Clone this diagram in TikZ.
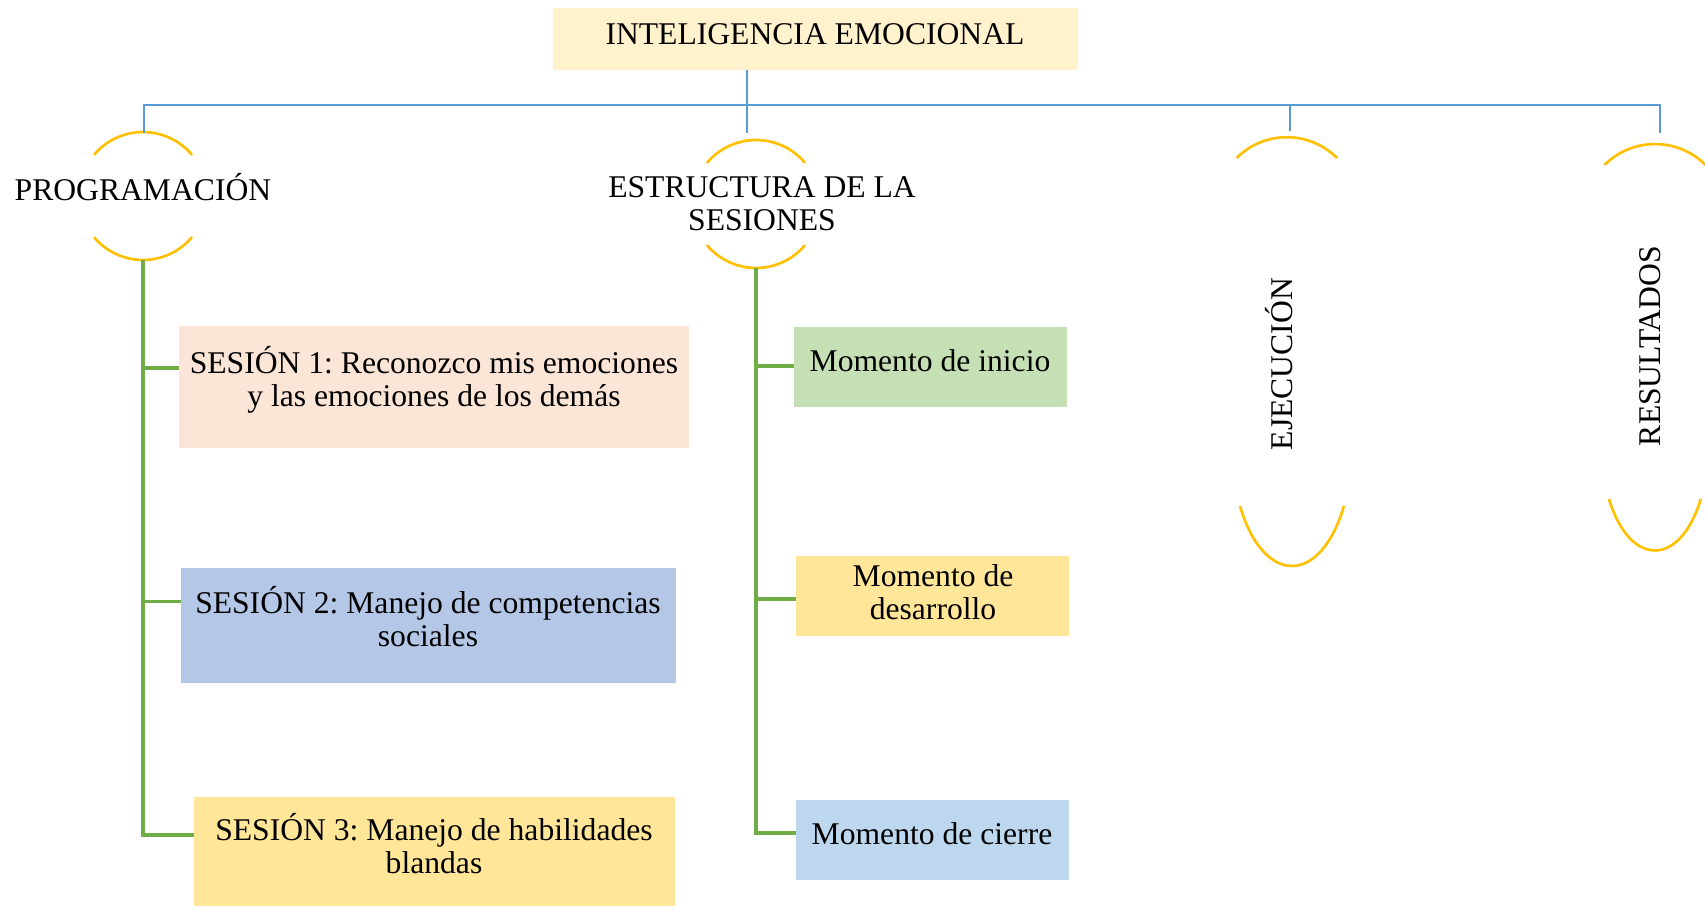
\documentclass[tikz,border=0pt]{standalone}
\usepackage{fontspec}
\setmainfont{Liberation Serif}
\frenchspacing
\definecolor{topfill}{HTML}{FFF2CC}
\definecolor{peach}{HTML}{FBE5D6}
\definecolor{lavblue}{HTML}{B4C7E7}
\definecolor{softgold}{HTML}{FFE699}
\definecolor{sage}{HTML}{C5E0B4}
\definecolor{skyblue}{HTML}{BDD7EE}
\definecolor{ringgold}{HTML}{FFC000}
\definecolor{linkblue}{HTML}{5B9BD5}
\definecolor{linkgreen}{HTML}{70AD47}
\tikzset{
  txt/.style={font=\fontsize{18}{18.8}\selectfont, align=center, inner sep=0pt},
  fillbox/.style={anchor=north west, inner sep=0pt, outer sep=0pt},
  ringnode/.style={circle, minimum size=2.56cm, inner sep=0pt, outer sep=0pt},
  arcline/.style={draw=ringgold, line width=1.5pt},
  bline/.style={draw=linkblue, line width=0.7pt},
  gline/.style={draw=linkgreen, line width=2pt}
}

\begin{document}
\begin{tikzpicture}[x=0.02cm, y=-0.02cm]
        \useasboundingbox (0,0) rectangle (1705,906);
        \node[fillbox, fill=topfill, minimum width=10.5cm, minimum height=1.25cm] (top) at (553,8) {};
        \node[txt, anchor=base] (toptxt) at (815,44) {INTELIGENCIA EMOCIONAL};

        \node[ringnode] (prog) at (143,196) {};
        \draw[arcline] (prog.40) arc[start angle=40, end angle=140, radius=1.28cm];
        \draw[arcline] (prog.220) arc[start angle=220, end angle=320, radius=1.28cm];
        \node[txt, anchor=base] (progtxt) at (143,200) {PROGRAMACIÓN};

        \node[ringnode] (est) at (756,204) {};
        \draw[arcline] (est.40) arc[start angle=40, end angle=140, radius=1.28cm];
        \draw[arcline] (est.220) arc[start angle=220, end angle=320, radius=1.28cm];
        \node[txt] (esttxt) at (762,204) {ESTRUCTURA DE LA\\SESIONES};

        \draw[arcline] (1337,158) arc[start angle=45, end angle=135, radius=1.42cm];
        \draw[arcline] (1240,506) arc[start angle=210, end angle=330, x radius=1.2cm, y radius=2.4cm];
        \node[txt, anchor=base, rotate=90] (ejec) at (1292,364) {EJECUCIÓN};

        \draw[arcline] (1705.6,165) arc[start angle=45, end angle=135, radius=1.43cm];
        \draw[arcline] (1609,499) arc[start angle=210, end angle=330, x radius=1.06cm, y radius=2.06cm];
        \node[txt, anchor=base, rotate=90] (resu) at (1660,346) {RESULTADOS};

        % blue tree
        \coordinate (bar) at (747,105);
        \coordinate (d1) at (144,133);
        \coordinate (d2) at (747,133);
        \coordinate (d3) at (1290,131);
        \coordinate (d4) at (1660,133);
        \draw[bline] (d1) -- (d1 |- bar) -- (d4 |- bar) -- (d4);
        \draw[bline] (top.south -| d2) -- (d2);
        \draw[bline] (d3 |- bar) -- (d3);

        % sessions
        \node[fillbox, fill=peach, minimum width=10.2cm, minimum height=2.44cm] (s1) at (179,326) {};
        \node[txt] (s1txt) at (434,380) {SESIÓN 1: Reconozco mis emociones\\y las emociones de los demás};
        \node[fillbox, fill=lavblue, minimum width=9.9cm, minimum height=2.3cm] (s2) at (181,568) {};
        \node[txt] (s2txt) at (428,617) {SESIÓN 2: Manejo de competencias\\sociales};
        \node[fillbox, fill=softgold, minimum width=9.62cm, minimum height=2.45cm] (s3) at (194,797) {};
        \node[txt] (s3txt) at (434,844) {SESIÓN 3: Manejo de habilidades\\blandas};

        \coordinate (b1) at ([yshift=-0.84cm]s1.north west);
        \coordinate (b2) at ([yshift=-0.67cm]s2.north west);
        \coordinate (b3) at ([yshift=-0.76cm]s3.north west);
        \draw[gline] (prog.south) |- (b3);
        \draw[gline] (b1) -- (b1 -| prog.south);
        \draw[gline] (b2) -- (b2 -| prog.south);

        % moments
        \node[fillbox, fill=sage, minimum width=5.46cm, minimum height=1.61cm] (m1) at (794,327) {};
        \node[txt, anchor=base] (m1txt) at (930,371) {Momento de inicio};
        \node[fillbox, fill=softgold, minimum width=5.46cm, minimum height=1.6cm] (m2) at (796,556) {};
        \node[txt] (m2txt) at (933,592) {Momento de\\desarrollo};
        \node[fillbox, fill=skyblue, minimum width=5.46cm, minimum height=1.6cm] (m3) at (796,800) {};
        \node[txt, anchor=base] (m3txt) at (932,844) {Momento de cierre};

        \coordinate (c1) at ([yshift=-0.78cm]m1.north west);
        \coordinate (c2) at ([yshift=-0.86cm]m2.north west);
        \coordinate (c3) at ([yshift=-0.66cm]m3.north west);
        \draw[gline] (est.south) |- (c3);
        \draw[gline] (c1) -- (c1 -| est.south);
        \draw[gline] (c2) -- (c2 -| est.south);
\end{tikzpicture}
\end{document}
